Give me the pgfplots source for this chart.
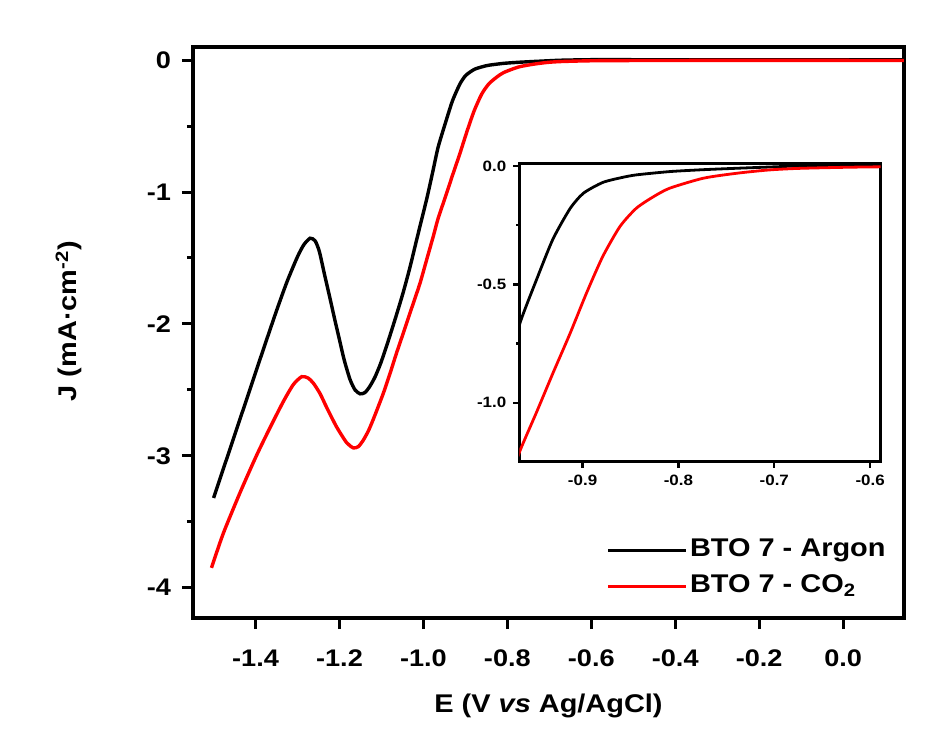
\documentclass[border=0pt]{standalone}
\usepackage{fontspec}
\setmainfont{Liberation Sans}[FakeStretch=1.13]
\usepackage{pgfplots}
\pgfplotsset{compat=1.18}

% linear sweep voltammetry
\pgfplotstableread{
E J
-1.500 -3.32
-1.460 -2.94
-1.420 -2.56
-1.380 -2.18
-1.350 -1.90
-1.325 -1.68
-1.300 -1.49
-1.285 -1.40
-1.270 -1.35
-1.258 -1.37
-1.248 -1.45
-1.236 -1.62
-1.223 -1.80
-1.211 -1.97
-1.200 -2.12
-1.189 -2.27
-1.175 -2.42
-1.163 -2.50
-1.151 -2.53
-1.139 -2.52
-1.127 -2.47
-1.115 -2.40
-1.102 -2.30
-1.088 -2.17
-1.068 -1.97
-1.049 -1.77
-1.032 -1.57
-1.016 -1.36
-0.992 -1.05
-0.978 -0.85
-0.965 -0.66
-0.948 -0.48
-0.931 -0.31
-0.913 -0.18
-0.899 -0.115
-0.879 -0.070
-0.860 -0.050
-0.844 -0.038
-0.809 -0.024
-0.774 -0.016
-0.739 -0.010
-0.700 -0.004
-0.670 0.000
-0.590 0.004
-0.400 0.003
-0.200 0.002
0.000 0.002
0.145 0.002
}\argon

\pgfplotstableread{
E J
-1.505 -3.85
-1.477 -3.59
-1.437 -3.28
-1.398 -3.00
-1.366 -2.79
-1.334 -2.59
-1.310 -2.46
-1.290 -2.40
-1.275 -2.41
-1.262 -2.45
-1.246 -2.53
-1.231 -2.63
-1.207 -2.78
-1.183 -2.90
-1.167 -2.94
-1.155 -2.93
-1.143 -2.88
-1.131 -2.81
-1.119 -2.72
-1.096 -2.53
-1.080 -2.38
-1.064 -2.22
-1.048 -2.07
-1.028 -1.88
-1.008 -1.69
-0.992 -1.51
-0.976 -1.33
-0.965 -1.20
-0.948 -1.04
-0.931 -0.876
-0.913 -0.707
-0.896 -0.538
-0.879 -0.383
-0.861 -0.256
-0.844 -0.179
-0.826 -0.130
-0.809 -0.094
-0.774 -0.052
-0.739 -0.031
-0.705 -0.017
-0.670 -0.010
-0.590 -0.004
-0.400 -0.002
0.145 -0.002
}\cotwo

\begin{document}
\begin{tikzpicture}
\path[use as bounding box] (-96.5pt,-64pt) rectangle (370.5pt,309pt);

\begin{axis}[
    at={(0,0)}, anchor=south west,
    scale only axis,
    width=355.5pt, height=285.5pt,
    xmin=-1.549, xmax=0.145,
    ymin=-4.23, ymax=0.1,
    xtick={-1.4,-1.2,-1.0,-0.8,-0.6,-0.4,-0.2,0},
    ytick={-4,-3,-2,-1,0},
    minor ytick={-3.5,-2.5,-1.5,-0.5},
    tick pos=left, tick align=outside,
    major tick length=5.5pt, minor tick length=3pt,
    every tick/.style={black, line width=1.5pt},
    axis line style={line width=2pt},
    /pgf/number format/assume math mode=true,
    tick label style={font=\fontsize{12}{14}\selectfont\bfseries},
    xticklabel style={yshift=-7pt, /pgf/number format/fixed, /pgf/number format/fixed zerofill, /pgf/number format/precision=1},
    yticklabel style={xshift=-2pt},
    xlabel={E (V \textit{vs} Ag/AgCl)},
    ylabel={J (mA·cm\textsuperscript{-2})},
    label style={font=\fontsize{12.8}{15}\selectfont\bfseries},
    xlabel style={at={(axis description cs:0.5,0)}, anchor=center, yshift=-44pt},
    ylabel style={at={([xshift=-62pt]axis description cs:0,0.52)}, anchor=center},
    legend cell align=left,
    legend style={draw=none, fill=none, at={(1,0)}, anchor=south east,
        xshift=-8pt, yshift=8.5pt, inner sep=0pt,
        font=\fontsize{12.8}{15}\selectfont\bfseries,
        nodes={inner sep=1pt, text height=9pt, text depth=3pt},
        row sep=4pt},
    legend image code/.code={\draw[#1] (0pt,0pt) -- (35pt,0pt); \path (0pt,0pt) -- (39pt,0pt);},
]
\addplot[black, line width=1.7pt, smooth, tension=0.4] table[x=E, y=J] {\argon};
\addlegendentry{BTO 7 - Argon}
\addplot[red, line width=1.7pt, smooth, tension=0.4] table[x=E, y=J] {\cotwo};
\addlegendentry{BTO 7 - CO\textsubscript{2}}
\end{axis}

\begin{axis}[
    at={(163.15pt,78.15pt)}, anchor=south west,
    scale only axis,
    width=180.7pt, height=148.85pt,
    xmin=-0.966, xmax=-0.589,
    ymin=-1.249, ymax=0.008,
    xtick={-0.9,-0.8,-0.7,-0.6},
    ytick={-1,-0.5,0},
    minor ytick={-0.75,-0.25},
    tick pos=left, tick align=outside,
    major tick length=3pt, minor tick length=1.5pt,
    every tick/.style={black, line width=1.2pt},
    axis line style={line width=1.5pt},
    axis background/.style={fill=white},
    /pgf/number format/assume math mode=true,
    tick label style={font=\fontsize{7.5}{9}\selectfont\bfseries,
        /pgf/number format/fixed, /pgf/number format/fixed zerofill, /pgf/number format/precision=1},
]
\addplot[black, line width=1.4pt, smooth, tension=0.4] table[x=E, y=J] {\argon};
\addplot[red, line width=1.4pt, smooth, tension=0.4] table[x=E, y=J] {\cotwo};
\end{axis}
\end{tikzpicture}
\end{document}
